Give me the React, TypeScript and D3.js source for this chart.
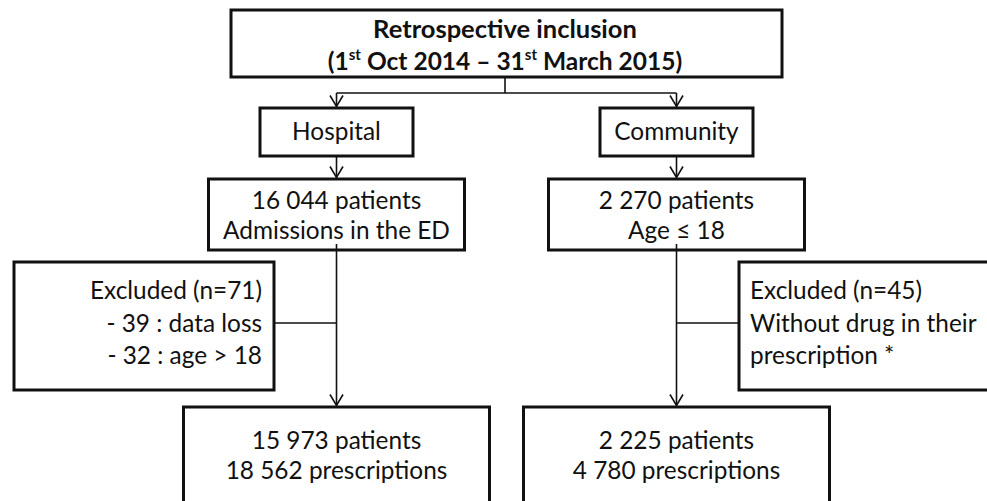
import * as React from "react";
import * as d3 from "d3";

// flowchart content
const columns = ["Hospital", "Community"];
const titleLine1 = "Retrospective  inclusion";
const titleLine2 = [
  {text: "(1", sup: false},
  {text: "st", sup: true},
  {text: " Oct 2014 – 31", sup: false},
  {text: "st", sup: true},
  {text: " March 2015)", sup: false},
];
const cohortLines = [
  ["16 044 patients", "Admissions in the ED"],
  ["2 270 patients", "Age ≤ 18"],
];
const excludedLines = [
  ["Excluded (n=71)", "- 39 : data loss", "- 32 : age > 18"],
  ["Excluded (n=45)", "Without drug in their", "prescription *"],
];
const finalLines = [
  ["15 973 patients", "18 562 prescriptions"],
  ["2 225 patients", "4 780 prescriptions"],
];

const W = 987;
const H = 501;
const FONT = "Lato, 'Open Sans', sans-serif";
const FS = 24.4;

export default function App() {
  const ref = React.useRef<SVGSVGElement>(null);

  React.useEffect(() => {
    const svg = d3.select(ref.current);
    svg.selectAll("*").remove();

    const colX = d3.scalePoint<string>().domain(columns).range([336.5, 676.5]);
    const midX = 505;

    // row tops/bottoms
    const rowY = {
      top: [10, 77], branch: 93, site: [108, 156], cohort: [179, 250],
      excl: [262, 390], exclLine: 323, final: [407, 530],
    };

    const g = svg.append("g");
    const boxStroke = 3;
    const lineStroke = 1.6;
    const ink = "#111";

    const box = (x0: number, y0: number, x1: number, y1: number) =>
      g.append("rect")
        .attr("x", x0).attr("y", y0)
        .attr("width", x1 - x0).attr("height", y1 - y0)
        .attr("fill", "#fff")
        .attr("stroke", ink)
        .attr("stroke-width", boxStroke);

    const line = (pts: [number, number][]) =>
      g.append("path")
        .attr("d", d3.line()(pts))
        .attr("fill", "none")
        .attr("stroke", ink)
        .attr("stroke-width", lineStroke);

    const arrowHead = (x: number, y: number) =>
      line([[x - 6.5, y - 11], [x, y], [x + 6.5, y - 11]]);

    const text = (x: number, y: number, s: string, anchor = "middle", weight = 400, size = FS) =>
      g.append("text")
        .attr("x", x).attr("y", y)
        .attr("text-anchor", anchor)
        .attr("font-family", FONT)
        .attr("font-size", size)
        .attr("font-weight", weight)
        .attr("fill", ink)
        .text(s);

    // connectors first, boxes on top
    line([[midX, rowY.top[1]], [midX, rowY.branch]]);
    line([[colX("Hospital")!, rowY.branch], [colX("Community")!, rowY.branch]]);
    columns.forEach((c) => {
      const x = colX(c)!;
      line([[x, rowY.branch], [x, rowY.site[0] - 1.5]]);
      arrowHead(x, rowY.site[0] - 1.5);
      line([[x, rowY.site[1]], [x, rowY.cohort[0] - 1.5]]);
      arrowHead(x, rowY.cohort[0] - 1.5);
      line([[x, rowY.cohort[1]], [x, rowY.final[0] - 1.5]]);
      arrowHead(x, rowY.final[0] - 1.5);
    });
    line([[274, rowY.exclLine], [colX("Hospital")!, rowY.exclLine]]);
    line([[739, rowY.exclLine], [colX("Community")!, rowY.exclLine]]);

    // title box
    box(231, rowY.top[0], 782, rowY.top[1]);
    text(midX, 38, titleLine1, "middle", 700, 25.5);
    const t2 = g.append("text")
      .attr("x", midX).attr("y", 70)
      .attr("text-anchor", "middle")
      .attr("font-family", FONT)
      .attr("font-size", 24.5)
      .attr("font-weight", 700)
      .attr("fill", ink);
    titleLine2.forEach((p, i) => {
      const ts = t2.append("tspan").text(p.text);
      if (p.sup) ts.attr("font-size", 15).attr("dy", -10);
      else if (i > 0 && titleLine2[i - 1].sup) ts.attr("dy", 10);
    });

    // site boxes
    const siteW = 153;
    columns.forEach((c) => {
      const x = colX(c)!;
      box(x - siteW / 2, rowY.site[0], x + siteW / 2, rowY.site[1]);
      text(x, 140, c);
    });

    // cohort boxes
    const cohortW = 256;
    columns.forEach((c, i) => {
      const x = colX(c)!;
      box(x - cohortW / 2, rowY.cohort[0], x + cohortW / 2, rowY.cohort[1]);
      cohortLines[i].forEach((s, j) => text(x, 209 + j * 30, s));
      // connector starts just under the text, inside the box
      line([[x, 244], [x, rowY.cohort[1]]]);
    });

    // excluded boxes
    box(14, rowY.excl[0], 274, rowY.excl[1]);
    excludedLines[0].forEach((s, j) => text(262, 299 + j * 32.5, s, "end"));
    box(739, rowY.excl[0], W + 20, rowY.excl[1]);
    excludedLines[1].forEach((s, j) => text(750, 299 + j * 32.5, s, "start"));

    // final boxes
    const finalW = 306;
    columns.forEach((c, i) => {
      const x = colX(c)!;
      box(x - finalW / 2, rowY.final[0], x + finalW / 2, rowY.final[1]);
      finalLines[i].forEach((s, j) => text(x, 449 + j * 30, s));
    });
  }, []);

  return (
    <svg
      ref={ref}
      width={W}
      height={H}
      style={{position: "absolute", left: 0, top: 0, background: "#fff"}}
    />
  );
}
